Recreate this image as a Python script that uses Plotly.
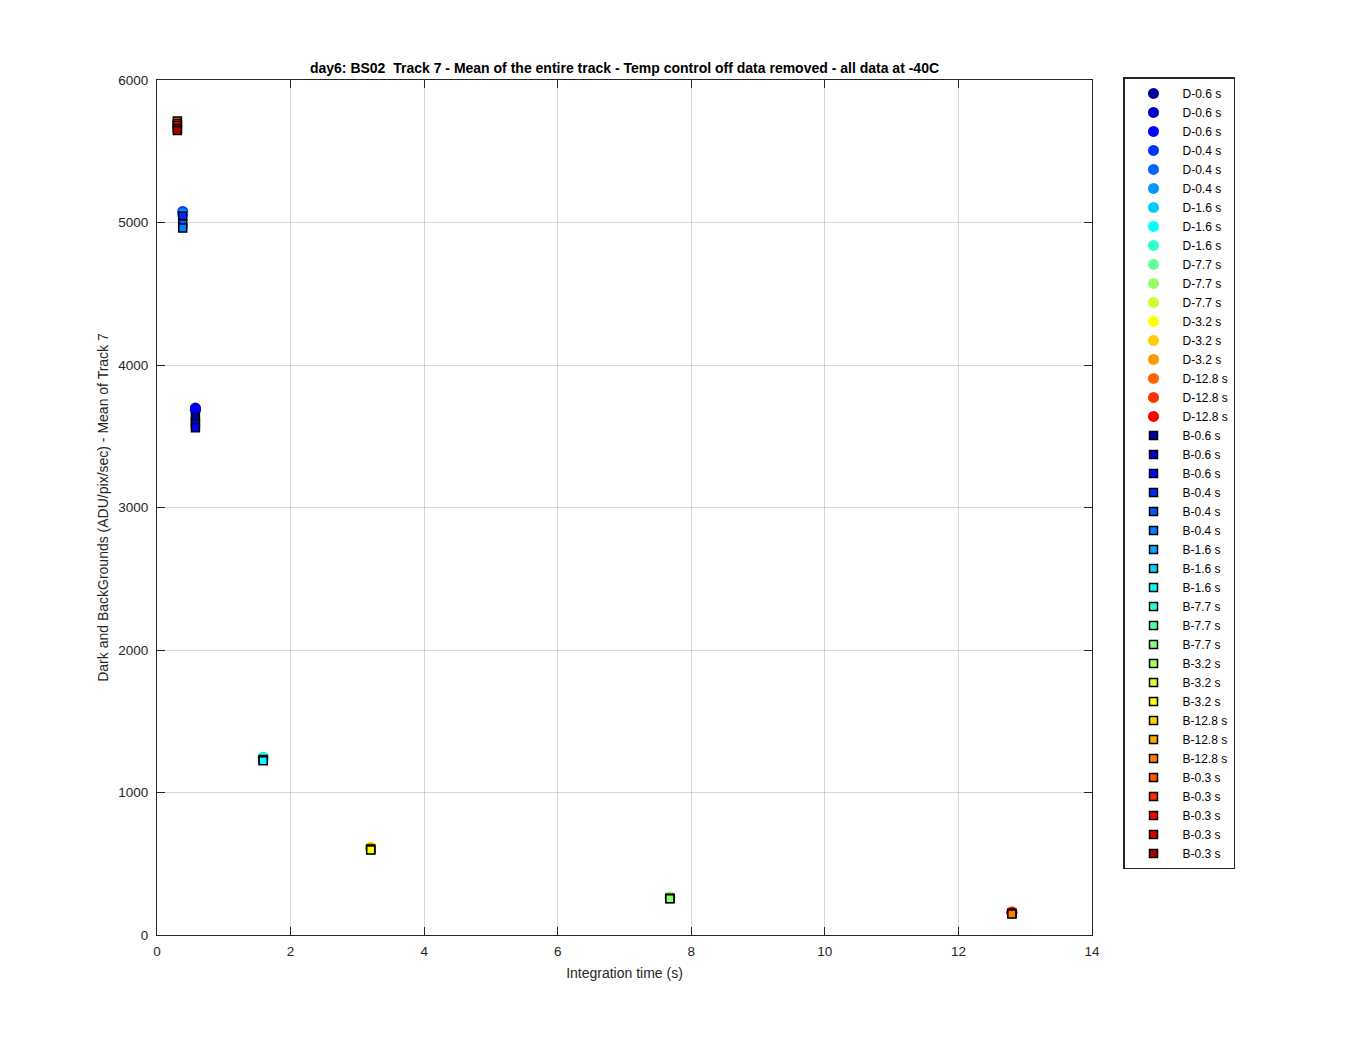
import plotly.graph_objects as go
import numpy as np

# ---------------- data ----------------
dark_labels = ["D-0.6 s", "D-0.6 s", "D-0.6 s", "D-0.4 s", "D-0.4 s", "D-0.4 s",
               "D-1.6 s", "D-1.6 s", "D-1.6 s", "D-7.7 s", "D-7.7 s", "D-7.7 s",
               "D-3.2 s", "D-3.2 s", "D-3.2 s", "D-12.8 s", "D-12.8 s", "D-12.8 s"]
dark_x = [0.575, 0.575, 0.575, 0.385, 0.385, 0.385,
          1.59, 1.59, 1.59, 7.68, 7.68, 7.68,
          3.2, 3.2, 3.2, 12.8, 12.8, 12.8]
dark_y = [3698, 3690, 3682, 5078, 5066, 5055,
          1248, 1243, 1238, 268, 265, 262,
          618, 613, 609, 163, 160, 157]

bg_labels = ["B-0.6 s", "B-0.6 s", "B-0.6 s", "B-0.4 s", "B-0.4 s", "B-0.4 s",
             "B-1.6 s", "B-1.6 s", "B-1.6 s", "B-7.7 s", "B-7.7 s", "B-7.7 s",
             "B-3.2 s", "B-3.2 s", "B-3.2 s", "B-12.8 s", "B-12.8 s", "B-12.8 s",
             "B-0.3 s", "B-0.3 s", "B-0.3 s", "B-0.3 s", "B-0.3 s"]
bg_x = [0.575, 0.575, 0.575, 0.385, 0.385, 0.385,
        1.59, 1.59, 1.59, 7.68, 7.68, 7.68,
        3.2, 3.2, 3.2, 12.8, 12.8, 12.8,
        0.305, 0.305, 0.305, 0.305, 0.305]
bg_y = [3632, 3595, 3560, 5045, 4992, 4962,
        1232, 1227, 1223, 258, 256, 255,
        603, 600, 597, 152, 150, 148,
        5712, 5695, 5680, 5660, 5645]

x_ticks = [0, 2, 4, 6, 8, 10, 12, 14]
y_ticks = [0, 1000, 2000, 3000, 4000, 5000, 6000]


def jet(m):
    """MATLAB jet(m) colormap."""
    n = int(np.ceil(m / 4))
    u = np.concatenate([np.arange(1, n + 1) / n, np.ones(n - 1), np.arange(n, 0, -1) / n])
    g = int(np.ceil(n / 2)) - (1 if m % 4 == 1 else 0) + np.arange(1, len(u) + 1)
    r = g + n
    b = g - n
    cmap = np.zeros((m, 3))
    for idx, ch in ((r, 0), (g, 1), (b, 2)):
        for k, val in zip(idx, u):
            if 1 <= k <= m:
                cmap[k - 1, ch] = val
    return ["rgb(%d,%d,%d)" % tuple(np.round(c * 255)) for c in cmap]


dark_colors = jet(len(dark_labels))
bg_colors = jet(len(bg_labels))

FONT = "Liberation Sans, Arial, Helvetica, sans-serif"

fig = go.Figure()
for lab, x, y, c in zip(dark_labels, dark_x, dark_y, dark_colors):
    fig.add_trace(go.Scatter(x=[x], y=[y], mode="markers", name=lab,
                             marker=dict(symbol="circle", size=11, color=c,
                                         line=dict(width=0))))
for lab, x, y, c in zip(bg_labels, bg_x, bg_y, bg_colors):
    fig.add_trace(go.Scatter(x=[x], y=[y], mode="markers", name=lab,
                             marker=dict(symbol="square", size=8, color=c,
                                         line=dict(width=1.5, color="black"))))

axis_common = dict(
    showline=True, linecolor="#262626", linewidth=1.2, mirror="ticks",
    ticks="inside", ticklen=8, tickwidth=1.2, tickcolor="#262626",
    showgrid=True, gridcolor="rgba(38,38,38,0.18)", gridwidth=1,
    zeroline=False, tickfont=dict(family=FONT, size=13.5, color="#262626"),
    automargin=False,
)

# page body has an 8px margin: compensate so the figure lands where the reference is
W, H = 1342, 1042
L, T = 149, 72
PW, PH = 935, 855

fig.update_layout(
    width=W, height=H,
    margin=dict(l=L, r=W - L - PW, t=T, b=H - T - PH, autoexpand=False),
    paper_bgcolor="white", plot_bgcolor="white",
    font=dict(family=FONT, size=13, color="#262626"),
    title=dict(text="<b>day6: BS02  Track 7 - Mean of the entire track - Temp control off data removed - all data at -40C</b>",
               x=0.5, xref="paper", xanchor="center",
               y=1 - 60 / H, yref="container", yanchor="middle",
               font=dict(family=FONT, size=14, color="black")),
    xaxis=dict(range=[0, 14], tickvals=x_ticks, ticklabelstandoff=4,
               title=dict(text="Integration time (s)", standoff=9,
                          font=dict(family=FONT, size=14, color="#262626")),
               **axis_common),
    yaxis=dict(range=[0, 6000], tickvals=y_ticks, ticklabelstandoff=5,
               title=dict(text="Dark and BackGrounds (ADU/pix/sec) - Mean of Track 7", standoff=6,
                          font=dict(family=FONT, size=14, color="#262626")),
               **axis_common),
    legend=dict(x=(1123 - 8 - L) / PW, xanchor="left", y=1.003, yanchor="top",
                bgcolor="white", bordercolor="#262626", borderwidth=1.5,
                font=dict(family=FONT, size=12, color="black"),
                tracegroupgap=0, itemsizing="trace", itemwidth=48,
                maxheight=1000),
    showlegend=True,
)

fig.write_html("out.html")
